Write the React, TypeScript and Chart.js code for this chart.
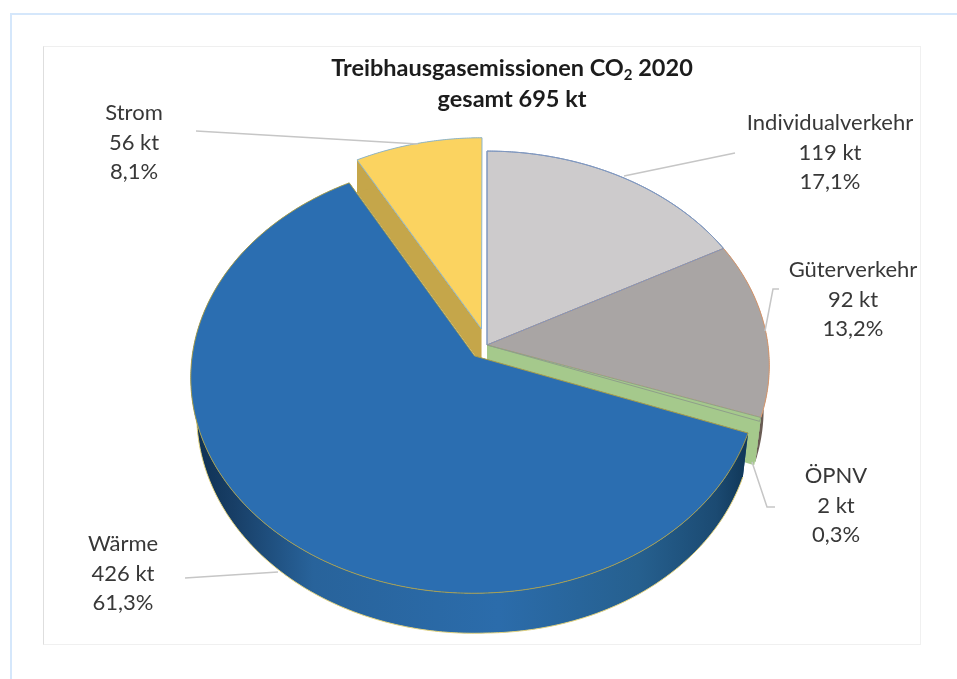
import React, { useEffect, useRef } from "react";
import { Chart, registerables } from "chart.js";

Chart.register(...registerables);

const categories = ["Individualverkehr", "Güterverkehr", "ÖPNV", "Wärme", "Strom"];
const emissionsKt = [119, 92, 2, 426, 56];
const shares = ["17,1%", "13,2%", "0,3%", "61,3%", "8,1%"];
const titleLine = ["Treibhausgasemissionen CO", "2", " 2020"];
const totalLine = "gesamt 695 kt";

const topColors = ["#cdcbcc", "#a9a5a4", "#a5c98c", "#2b6eb1", "#fbd360"];
const wallColors = ["#8f8d8e", "#6a5c54", "#a5c98c", "#2b6eb1", "#c5a64a"];
const edgeColors = ["#7f97bf", "#d9966a", "#8f9f8a", "#a99f4c", "#8db5cc"];
const sliceOffsets = [0, 0, 0, 19, 22];

// label anchors: x centre and y of the first line, plus the leader polyline
const labelCentres = [
  { x: 830, y: 123, leader: [[735, 153], [624, 176]] },
  { x: 853, y: 270, leader: [[779, 289], [773, 289], [765, 331]] },
  { x: 836, y: 476, leader: [[775, 507], [767, 507], [752, 462]] },
  { x: 123, y: 544, leader: [[185, 578], [278, 572]] },
  { x: 134, y: 113, leader: [[196, 131], [418, 144]] },
];

const DISC_RADIUS = 281;
const TILT = 0.756;
const PERSPECTIVE = 0.0955;
const STEP = Math.PI / 360;

type Pt = [number, number];

// Projects a point of the disc (unit radius) onto the canvas, optionally at the underside.
function project(cx: number, cy: number, R: number, X: number, Y: number, lower: boolean): Pt {
  const w = 1 - PERSPECTIVE * Y;
  let sx = (R * X) / w;
  let sy = (R * TILT * Y) / w;
  if (lower) {
    if (X > 0 || Y > 0) sx *= 0.98;
    sy += (36 + 7 * Math.max(0, X)) / w;
  }
  return [cx + sx, cy + sy];
}

function polygon(ctx: CanvasRenderingContext2D, pts: Pt[]) {
  ctx.beginPath();
  pts.forEach((p, i) => (i ? ctx.lineTo(p[0], p[1]) : ctx.moveTo(p[0], p[1])));
  ctx.closePath();
}

const pieIn3d = {
  id: "pieIn3d",
  beforeDatasetsDraw(chart: any) {
    const ctx: CanvasRenderingContext2D = chart.ctx;
    const arcs = chart.getDatasetMeta(0).data;
    // far slice first, the large front slice last
    const order = [4, 0, 1, 2, 3];
    const topFaces: Pt[][] = [];
    ctx.save();
    ctx.lineJoin = "round";
    for (const i of order) {
      const arc = arcs[i];
      const { startAngle, endAngle, outerRadius: R, x: cx, y: cy } = arc;
      const off = sliceOffsets[i] / R;
      const mid = (startAngle + endAngle) / 2;
      const ox = off * Math.cos(mid);
      const oy = off * Math.sin(mid);
      const rim = (a: number, lower: boolean) =>
        project(cx, cy, R, ox + Math.cos(a), oy + Math.sin(a), lower);
      const apex = (lower: boolean) => project(cx, cy, R, ox, oy, lower);

      const angles: number[] = [];
      for (let a = startAngle; a < endAngle; a += STEP) angles.push(a);
      angles.push(endAngle);

      let wallFill: string | CanvasGradient = wallColors[i];
      if (i === 3) {
        const g = ctx.createLinearGradient(190, 0, 750, 0);
        g.addColorStop(0, "#0d2f50");
        g.addColorStop(0.08, "#183f67");
        g.addColorStop(0.22, "#28639b");
        g.addColorStop(0.55, "#2b6cab");
        g.addColorStop(0.8, "#26608f");
        g.addColorStop(0.94, "#1b4a72");
        g.addColorStop(1, "#0f3555");
        wallFill = g;
      }

      // cut faces
      ctx.fillStyle = i === 3 ? "#1f5286" : wallColors[i];
      for (const a of [startAngle, endAngle]) {
        polygon(ctx, [apex(false), rim(a, false), rim(a, true), apex(true)]);
        ctx.fill();
      }

      // outer wall
      const upper = angles.map((a) => rim(a, false));
      const lower = angles.map((a) => rim(a, true));
      ctx.fillStyle = wallFill;
      polygon(ctx, [...upper, ...lower.slice().reverse()]);
      ctx.fill();
      if (i === 3) {
        ctx.strokeStyle = "#e3d27c";
        ctx.lineWidth = 1;
        ctx.beginPath();
        lower.forEach((p, k) => (k ? ctx.lineTo(p[0], p[1]) : ctx.moveTo(p[0], p[1])));
        ctx.stroke();
      }

      // top face
      const face: Pt[] = [apex(false), ...upper];
      topFaces[i] = face;
      polygon(ctx, face);
      ctx.fillStyle = topColors[i];
      ctx.fill();
      ctx.strokeStyle = edgeColors[i];
      ctx.lineWidth = 1;
      ctx.stroke();

      // the first slice keeps its outline along the shared radial edge
      if (i === 1) {
        polygon(ctx, topFaces[0]);
        ctx.strokeStyle = edgeColors[0];
        ctx.stroke();
      }
    }
    ctx.restore();
    return false;
  },
  afterDraw(chart: any) {
    const ctx: CanvasRenderingContext2D = chart.ctx;
    ctx.save();
    ctx.textBaseline = "middle";

    // leader lines
    ctx.strokeStyle = "#c6c6c6";
    ctx.lineWidth = 1.5;
    labelCentres.forEach(({ leader }) => {
      ctx.beginPath();
      leader.forEach((p, k) => (k ? ctx.lineTo(p[0], p[1]) : ctx.moveTo(p[0], p[1])));
      ctx.stroke();
    });

    // slice labels
    ctx.fillStyle = "#383838";
    ctx.textAlign = "center";
    ctx.font = '22px Lato, "Open Sans", sans-serif';
    categories.forEach((name, i) => {
      const { x, y } = labelCentres[i];
      [name, `${emissionsKt[i]} kt`, shares[i]].forEach((line, k) => {
        ctx.fillText(line, x, y + k * 29.5);
      });
    });

    // two-line heading with a subscript in CO2
    const bold = 'bold 23.5px Lato, "Open Sans", sans-serif';
    const small = 'bold 15px Lato, "Open Sans", sans-serif';
    ctx.fillStyle = "#1c1c1c";
    ctx.font = bold;
    const w0 = ctx.measureText(titleLine[0]).width;
    const w2 = ctx.measureText(titleLine[2]).width;
    ctx.font = small;
    const w1 = ctx.measureText(titleLine[1]).width;
    let tx = 512 - (w0 + w1 + w2) / 2;
    ctx.textAlign = "left";
    ctx.font = bold;
    ctx.fillText(titleLine[0], tx, 68);
    tx += w0;
    ctx.font = small;
    ctx.fillText(titleLine[1], tx, 75);
    tx += w1;
    ctx.font = bold;
    ctx.fillText(titleLine[2], tx, 68);
    ctx.textAlign = "center";
    ctx.fillText(totalLine, 512, 99);
    ctx.restore();
  },
};

export default function App() {
  const canvasRef = useRef<HTMLCanvasElement | null>(null);

  useEffect(() => {
    const chart = new Chart(canvasRef.current as HTMLCanvasElement, {
      type: "pie",
      data: {
        labels: categories,
        datasets: [
          {
            data: emissionsKt,
            backgroundColor: topColors,
            borderColor: edgeColors,
            borderWidth: 1,
            offset: sliceOffsets,
          },
        ],
      },
      options: {
        animation: false,
        responsive: false,
        radius: DISC_RADIUS,
        layout: { padding: { left: 17, right: 0, top: 11, bottom: 0 } },
        plugins: {
          legend: { display: false },
          title: { display: false },
          tooltip: { enabled: false },
        },
      },
      plugins: [pieIn3d],
    } as any);
    return () => chart.destroy();
  }, []);

  return (
    <div style={{ position: "absolute", left: 0, top: 0, width: 957, height: 679, overflow: "hidden", background: "#fff" }}>
      <div style={{ position: "absolute", left: 10, top: 13, width: 947, height: 666, borderLeft: "2px solid #d5e7fb", borderTop: "2px solid #d5e7fb", boxSizing: "border-box" }} />
      <div style={{ position: "absolute", left: 43, top: 46, width: 878, height: 599, borderLeft: "1px solid #dedede", borderTop: "1px solid #efefef", borderRight: "1px solid #f0f0f0", borderBottom: "1px solid #f0f0f0", boxSizing: "border-box" }} />
      <canvas ref={canvasRef} width={957} height={679} style={{ position: "absolute", left: 0, top: 0, display: "block" }} />
    </div>
  );
}
